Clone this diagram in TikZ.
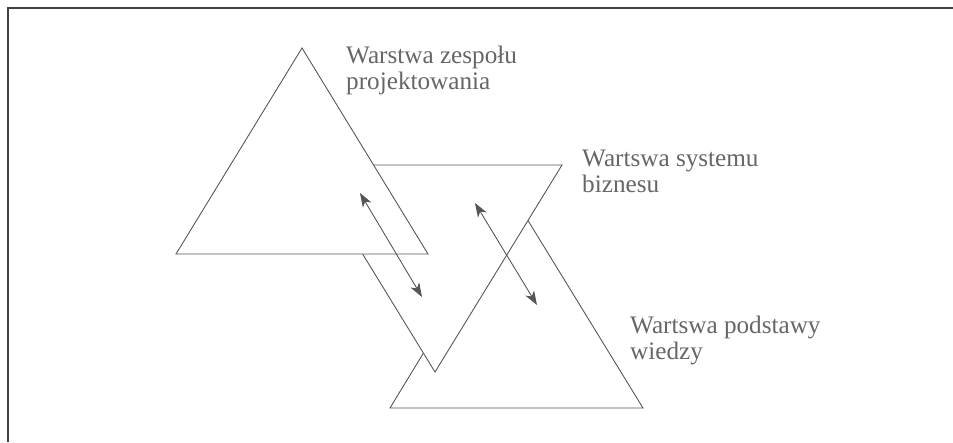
\documentclass[tikz,border=0pt]{standalone}
\usepackage{fontspec}
\setmainfont{Liberation Serif}
\usepackage{xcolor}
\usepackage{tikz}
\usetikzlibrary{arrows.meta, positioning, calc}
\definecolor{linegray}{HTML}{555555}
\definecolor{textgray}{HTML}{666666}
\tikzstyle{layer} = [draw=linegray, line width=0.75pt, fill=white, line join=miter]
\tikzstyle{arrow} = [draw=linegray, line width=0.75pt, {Stealth[length=4.2mm,width=3mm,inset=1.2mm]}-{Stealth[length=4.2mm,width=3mm,inset=1.2mm]}]
\tikzstyle{label} = [text=textgray, align=left, inner sep=0pt, anchor=north west, font=\fontsize{21.5}{22.1}\selectfont]

\begin{document}
\begin{tikzpicture}[x=0.03cm, y=-0.03cm]
    \useasboundingbox (0,0) rectangle (953,442);
    % Frame
    \draw[line width=1.3pt, draw=black!75] (953,8) -- (8,8) -- (8,442);

    % Triangle corners
    \coordinate (wd-top) at (516,201);
    \coordinate (wd-left) at (390,408);
    \coordinate (wd-right) at (643,408);
    \coordinate (bz-left) at (308,165);
    \coordinate (bz-right) at (562,165);
    \coordinate (bz-bot) at (435,372);
    \coordinate (zp-top) at (302,48);
    \coordinate (zp-left) at (176,254);
    \coordinate (zp-right) at (428,254);

    % Layers, back to front
    \draw[layer] (wd-top) -- (wd-left) -- (wd-right) -- cycle;
    \draw[layer] (bz-left) -- (bz-right) -- (bz-bot) -- cycle;
    \draw[layer] (zp-top) -- (zp-left) -- (zp-right) -- cycle;

    % Arrows between layers
    \coordinate (a1s) at (360,193);
    \coordinate (a1e) at (422,297);
    \coordinate (a2s) at (475,203);
    \coordinate (a2e) at (537,305);
    \draw[arrow] (a1s) -- (a1e);
    \draw[arrow] (a2s) -- (a2e);

    % Labels
    \node[label] (zespol) at (346,46) {Warstwa zespołu\\projektowania};
    \node[label] (biznes) at (582,150) {Wartswa systemu\\biznesu};
    \node[label] (wiedza) at (630,316) {Wartswa podstawy\\wiedzy};
\end{tikzpicture}
\end{document}
